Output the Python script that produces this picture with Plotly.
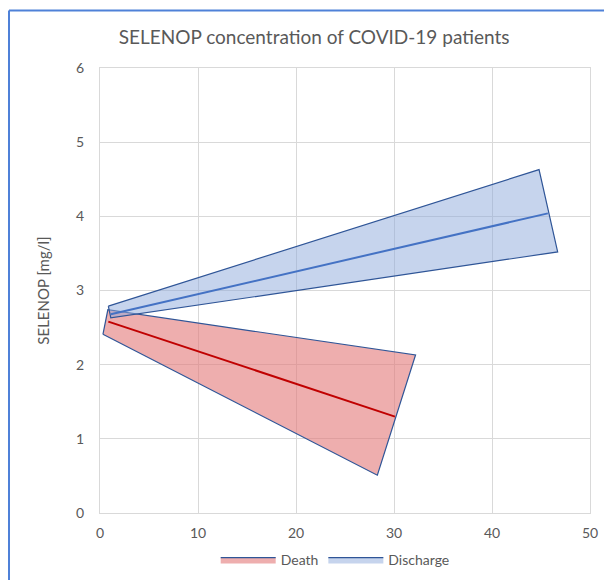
import plotly.graph_objects as go

# Data
death_band_x = [0.3, 0.8, 32.2, 28.3, 0.3]
death_band_y = [2.41, 2.74, 2.13, 0.51, 2.41]
death_line_x = [0.85, 30.1]
death_line_y = [2.58, 1.30]

discharge_band_x = [0.85, 44.8, 46.7, 1.1, 0.85]
discharge_band_y = [2.79, 4.63, 3.52, 2.63, 2.79]
discharge_line_x = [1.1, 45.7]
discharge_line_y = [2.68, 4.04]

x_ticks = [0, 10, 20, 30, 40, 50]
y_ticks = [0, 1, 2, 3, 4, 5, 6]

FONT = "Lato"
GRAY = "#595959"
OUTLINE = "#2F5597"

fig = go.Figure()
fig.add_trace(go.Scatter(x=death_band_x, y=death_band_y, fill="toself", mode="lines",
                         fillcolor="rgba(226,120,120,0.6)",
                         line=dict(color=OUTLINE, width=1.2), name="Death"))
fig.add_trace(go.Scatter(x=discharge_band_x, y=discharge_band_y, fill="toself", mode="lines",
                         fillcolor="rgba(142,169,219,0.5)",
                         line=dict(color=OUTLINE, width=1.2), name="Discharge"))
fig.add_trace(go.Scatter(x=death_line_x, y=death_line_y, mode="lines",
                         line=dict(color="#C00000", width=2), showlegend=False))
fig.add_trace(go.Scatter(x=discharge_line_x, y=discharge_line_y, mode="lines",
                         line=dict(color="#4472C4", width=2), showlegend=False))

axis_common = dict(showgrid=True, gridcolor="#D9D9D9", gridwidth=1, zeroline=False,
                   showline=True, linecolor="#D9D9D9", linewidth=1, mirror=True,
                   tickfont=dict(family=FONT, size=14, color=GRAY), ticks="")

fig.update_xaxes(range=[0, 50], tickvals=x_ticks, automargin=False, ticklabelstandoff=7,
                 **axis_common)
fig.update_yaxes(range=[0, 6], tickvals=y_ticks, ticklabelstandoff=12, automargin=False,
                 title=dict(text="SELENOP [mg/l]", font=dict(family=FONT, size=15, color=GRAY),
                            standoff=22),
                 **axis_common)

fig.update_layout(
    width=604, height=580, autosize=False,
    margin=dict(l=100, r=14, t=68, b=67),
    paper_bgcolor="white", plot_bgcolor="white",
    title=dict(text="SELENOP concentration of COVID-19 patients", x=0.52, xanchor="center",
               y=1 - 37 / 580, yanchor="middle",
               font=dict(family=FONT, size=19, color=GRAY)),
    legend=dict(orientation="h", x=0.48, xanchor="center", yref="container",
                y=1 - 560 / 580, yanchor="middle",
                font=dict(family=FONT, size=14, color=GRAY), itemwidth=55),
    shapes=[
        dict(type="line", xref="paper", yref="paper", x0=-0.1857, x1=1.1, y0=1.129, y1=1.129,
             line=dict(color="#4F81D8", width=2)),
        dict(type="line", xref="paper", yref="paper", x0=-0.1857, x1=-0.1857, y0=1.129, y1=-0.2,
             line=dict(color="#4F81D8", width=2)),
    ],
)

fig.write_html("out.html", config={"displayModeBar": False, "responsive": False},
               post_script="document.body.style.margin='0';")
